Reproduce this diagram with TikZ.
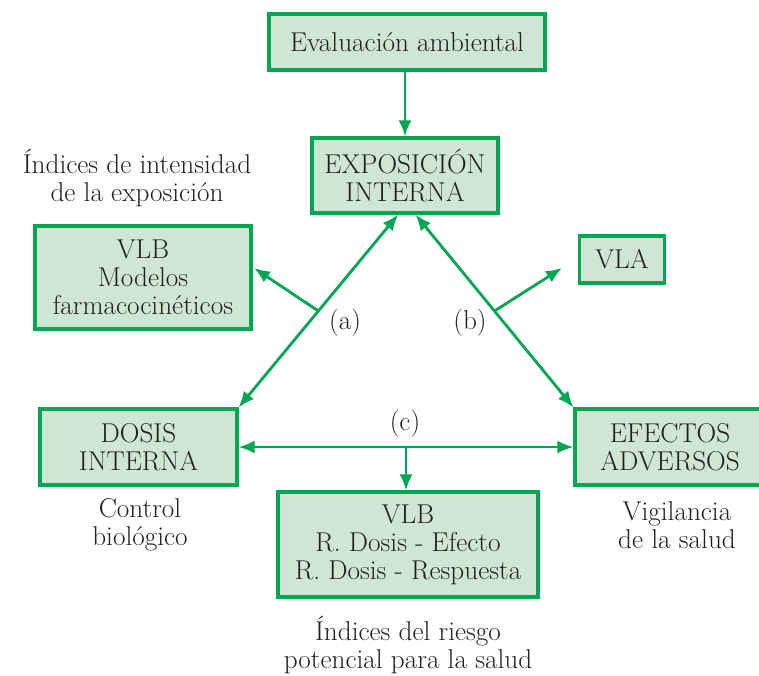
\documentclass[tikz,border=0pt]{standalone}
\usetikzlibrary{positioning, arrows.meta}

\definecolor{verde}{RGB}{0,166,81}
\definecolor{verdeclaro}{RGB}{206,230,211}
\definecolor{tinta}{RGB}{35,31,32}

\tikzset{
  caja/.style={draw=verde, fill=verdeclaro, line width=1.8pt,
    align=center, inner sep=0pt, text=tinta},
  flecha/.style={draw=verde, line width=1.6pt,
    -{Latex[length=3.2mm,width=2.6mm]}},
  doble/.style={flecha,
    {Latex[length=3.2mm,width=2.6mm]}-{Latex[length=3.2mm,width=2.6mm]}},
  nota/.style={align=center, text=tinta}
}

\begin{document}
\begin{tikzpicture}[x=0.02cm, y=-0.02cm, font=\fontsize{15.5}{16}\selectfont]
\useasboundingbox (0,0) rectangle (759,675);

\node[caja, minimum width=5.52cm, minimum height=1.12cm] (eval) at (407,42)
    {Evaluación ambiental};
\node[caja, minimum width=3.72cm, minimum height=1.5cm] (exp) at (405,175.5)
    {EXPOSICIÓN\\INTERNA};
\node[caja, minimum width=4.32cm, minimum height=2.06cm] (vlb1) at (143,277.5)
    {VLB\\Modelos\\farmacocinéticos};
\node[caja, minimum width=1.7cm, minimum height=0.94cm] (vla) at (622,259.5)
    {VLA};
\node[caja, minimum width=3.94cm, minimum height=1.52cm] (dosis) at (138.5,447)
    {DOSIS\\INTERNA};
\node[caja, minimum width=3.8cm, minimum height=1.52cm] (efectos) at (670,447)
    {EFECTOS\\ADVERSOS};
\node[caja, minimum width=5.2cm, minimum height=2.1cm] (vlb2) at (408,544.5)
    {VLB\\R. Dosis - Efecto\\R. Dosis - Respuesta};

% textos sueltos
\node[nota] (int) at (137,178) {Índices de intensidad\\de la exposición};
\node[nota] (control) at (140,525) {Control\\biológico};
\node[nota] (vig) at (677,525) {Vigilancia\\de la salud};
\node[nota] (riesgo) at (408,645) {Índices del riesgo\\potencial para la salud};

\coordinate (pa) at (254,268);
\coordinate (pb) at (562,268);

\draw[flecha] (eval.south -| exp) -- (exp);
\draw[doble] (exp.-100) -- coordinate[pos=.5] (ma) (dosis.north east);
\draw[doble] (exp.-75) -- coordinate[pos=.5] (mb) (efectos.north west);
\draw[doble] (dosis.east) -- coordinate[pos=.5] (mc) (efectos.west);
\draw[flecha] (ma) -- (pa);
\draw[flecha] (mb) -- (pb);
\draw[flecha] (mc) -- (mc |- vlb2.north);

\node[nota] (la) at (345,323) {(a)};
\node[nota] (lb) at (470,323) {(b)};
\node[nota] (lc) at (405,424) {(c)};
\end{tikzpicture}
\end{document}
